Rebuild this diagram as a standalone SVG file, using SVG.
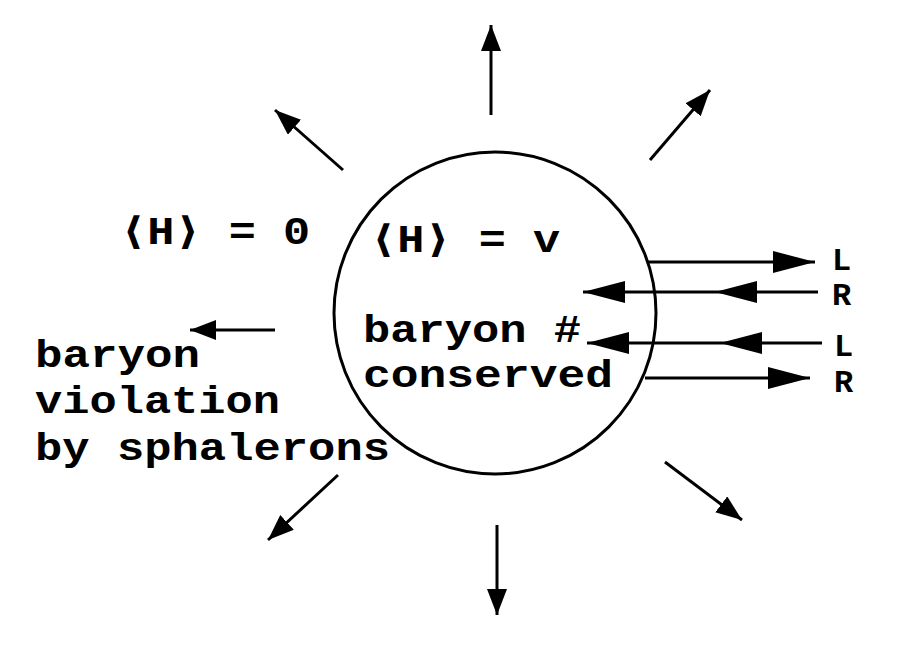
<svg xmlns="http://www.w3.org/2000/svg" width="910" height="660" viewBox="0 0 910 660">
<defs>
<marker id="a" viewBox="0 0 26 20" refX="26" refY="10" markerWidth="26" markerHeight="20" markerUnits="userSpaceOnUse" orient="auto"><path d="M0,0L26,10L0,20z"/></marker>
<marker id="b" viewBox="0 0 42 22" refX="42" refY="11" markerWidth="42" markerHeight="22" markerUnits="userSpaceOnUse" orient="auto"><path d="M0,0L42,11L0,22z"/></marker>
<style>
line{stroke:#000;stroke-width:3}
.r{marker-end:url(#a)}
.h{marker-end:url(#b)}
text{font-family:"Liberation Mono","DejaVu Sans Mono",monospace;font-weight:bold;font-size:38px}
.s{font-size:32px}
</style>
</defs>
<rect width="910" height="660" fill="#fff"/>
<g id="bubble"><circle cx="495" cy="313" r="161" fill="none" stroke="#000" stroke-width="3"/>
<text x="370" y="252" textLength="190" lengthAdjust="spacingAndGlyphs">⟨H⟩ = v</text>
<text x="363" y="342" textLength="218" lengthAdjust="spacingAndGlyphs">baryon #</text>
<text x="363" y="387" textLength="250" lengthAdjust="spacingAndGlyphs">conserved</text>
</g>
<g id="outside">
<text x="120" y="244" textLength="190" lengthAdjust="spacingAndGlyphs">⟨H⟩ = 0</text>
<text x="35" y="367" textLength="165" lengthAdjust="spacingAndGlyphs">baryon</text>
<text x="35" y="413" textLength="245" lengthAdjust="spacingAndGlyphs">violation</text>
<text x="35" y="460" textLength="355" lengthAdjust="spacingAndGlyphs">by sphalerons</text>
</g>
<g id="labels">
<text class="s" x="832" y="270">L</text><text class="s" x="832" y="305">R</text>
<text class="s" x="834" y="356">L</text><text class="s" x="834" y="392">R</text>
</g>
<g id="connectors">
<line class="r" x1="491" y1="115" x2="491" y2="25"/>
<line class="r" x1="650" y1="160" x2="710" y2="90"/>
<line class="r" x1="343" y1="170" x2="275" y2="110"/>
<line class="r" x1="275" y1="330" x2="190" y2="330"/>
<line class="r" x1="338" y1="475" x2="268" y2="540"/>
<line class="r" x1="497" y1="525" x2="497" y2="615"/>
<line class="r" x1="665" y1="462" x2="742" y2="520"/>
<line class="h" x1="648" y1="262" x2="815" y2="262"/>
<line class="h" x1="818" y1="292" x2="715" y2="292"/>
<line class="h" x1="715" y1="292" x2="583" y2="292"/>
<line class="h" x1="822" y1="343" x2="720" y2="343"/>
<line class="h" x1="720" y1="343" x2="587" y2="343"/>
<line class="h" x1="645" y1="378" x2="810" y2="378"/>
</g>
</svg>
